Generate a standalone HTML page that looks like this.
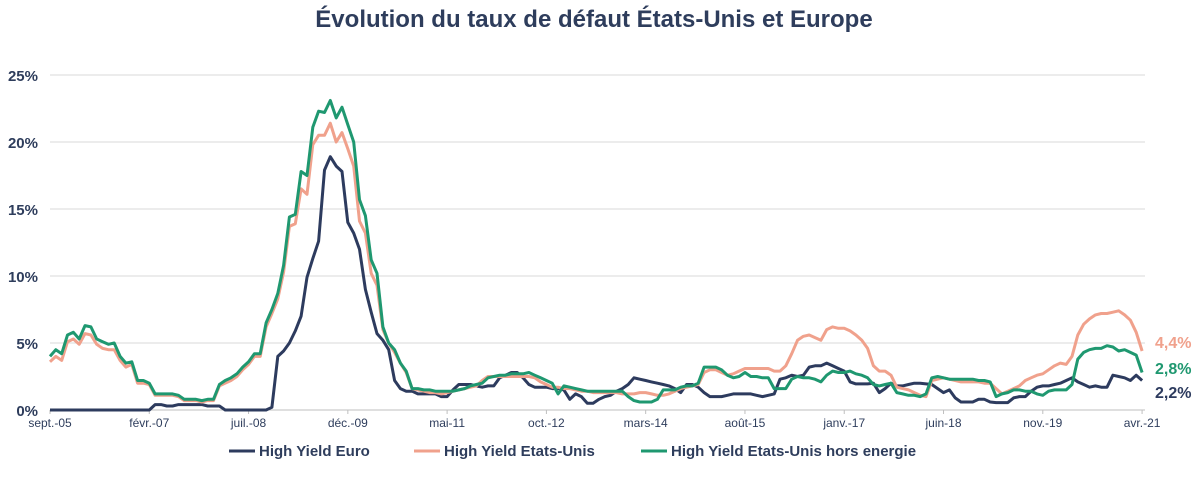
<!DOCTYPE html>
<html><head><meta charset="utf-8"><style>
body{margin:0;background:#fff;font-family:"Liberation Sans",Arial,sans-serif}
svg{display:block}
</style></head><body>
<svg id="chart" width="1200" height="489" viewBox="0 0 1200 489" xmlns="http://www.w3.org/2000/svg">
<text x="594" y="27" text-anchor="middle" font-size="24" font-weight="bold" fill="#2e3d5c">Évolution du taux de défaut États-Unis et Europe</text>
<g id="grid"></g>
<g id="yaxis"></g>
<g id="xaxis"></g>
<g id="series"></g>
<g id="endlabels"></g>
<g font-size="15" font-weight="bold" fill="#2e3d5c">
 <g><line x1="229" y1="451" x2="255" y2="451" stroke="#2d3b5e" stroke-width="3"/><text x="259" y="456">High Yield Euro</text></g>
 <g><line x1="414" y1="451" x2="440" y2="451" stroke="#f0a18c" stroke-width="3"/><text x="444" y="456">High Yield Etats-Unis</text></g>
 <g><line x1="641" y1="451" x2="667" y2="451" stroke="#1f9870" stroke-width="3"/><text x="671" y="456">High Yield Etats-Unis hors energie</text></g>
</g>
</svg>
<script>
const yTicks=[0,5,10,15,20,25];
const xTickLabels=["sept.-05","févr.-07","juil.-08","déc.-09","mai-11","oct.-12","mars-14","août-15","janv.-17","juin-18","nov.-19","avr.-21"];
const euro=[0,0,0,0,0,0,0,0,0,0,0,0,0,0,0,0,0,0,0.4,0.4,0.3,0.3,0.4,0.4,0.4,0.4,0.4,0.3,0.3,0.3,0,0,0,0,0,0,0,0,0.2,4.0,4.4,5.0,5.9,7.0,9.9,11.3,12.6,17.9,18.9,18.2,17.8,14.0,13.2,12.0,9.0,7.3,5.7,5.2,4.5,2.2,1.6,1.4,1.4,
1.2,1.2,1.2,1.2,1.0,1.0,1.5,1.9,1.9,1.9,1.8,1.7,1.8,1.8,2.4,2.6,2.8,2.8,2.4,1.9,1.7,1.7,1.7,1.6,1.6,1.5,0.8,1.2,1.0,0.5,0.5,0.8,1.0,1.1,1.4,1.6,1.9,2.4,2.3,2.2,2.1,2.0,1.9,1.8,1.6,1.3,1.9,1.9,1.7,1.3,1.0,1.0,1.0,1.1,1.2,1.2,1.2,1.2,1.1,1.0,1.1,1.2,2.3,2.4,2.6,2.5,
2.6,3.2,3.3,3.3,3.5,3.3,3.1,2.9,2.1,1.95,1.95,1.95,2.0,1.3,1.6,2.0,1.8,1.8,1.9,2.0,2.0,1.95,1.9,1.6,1.3,1.5,0.9,0.6,0.6,0.6,0.8,0.8,0.6,0.55,0.55,0.55,0.9,1.0,1.0,1.4,1.7,1.8,1.8,1.9,2.0,2.2,2.4,2.1,1.9,1.7,1.8,1.7,1.7,2.6,2.5,2.4,2.2,2.6,2.2];
const us=[3.6,4.0,3.7,5.1,5.3,4.9,5.7,5.6,4.9,4.6,4.5,4.5,3.7,3.2,3.4,2.0,2.0,1.9,1.1,1.1,1.1,1.1,1.0,0.7,0.7,0.7,0.6,0.7,0.7,1.8,2.0,2.2,2.5,3.0,3.4,4.0,4.0,6.2,7.2,8.3,10.3,13.7,13.9,16.5,16.1,19.8,20.5,20.5,21.4,20.0,20.7,19.5,18.2,14.1,13.2,10.2,9.3,6.0,5.0,4.3,3.5,2.8,1.6,
1.5,1.4,1.3,1.3,1.2,1.3,1.4,1.5,1.6,1.7,1.8,2.2,2.5,2.5,2.5,2.5,2.5,2.5,2.5,2.5,2.4,2.1,1.9,1.7,1.7,1.6,1.6,1.5,1.4,1.4,1.3,1.3,1.3,1.3,1.3,1.2,1.2,1.2,1.3,1.3,1.2,1.1,1.1,1.2,1.4,1.6,1.7,1.8,1.9,2.8,3.0,3.0,2.8,2.6,2.7,2.9,3.1,3.1,3.1,3.1,3.1,2.9,2.9,3.3,4.2,5.2,
5.5,5.6,5.4,5.2,6.0,6.2,6.1,6.1,5.9,5.6,5.2,4.6,3.3,2.9,2.9,2.6,1.7,1.6,1.5,1.3,1.1,1.0,2.2,2.3,2.4,2.3,2.2,2.1,2.1,2.1,2.1,2.0,2.0,1.6,1.2,1.4,1.6,1.8,2.2,2.4,2.6,2.7,3.0,3.3,3.5,3.4,4.0,5.6,6.4,6.8,7.1,7.2,7.2,7.3,7.4,7.1,6.7,5.8,4.4];
const usExEnergy=[4.0,4.5,4.2,5.6,5.8,5.3,6.3,6.2,5.3,5.1,4.9,5.0,4.0,3.5,3.6,2.2,2.2,2.0,1.2,1.2,1.2,1.2,1.1,0.8,0.8,0.8,0.7,0.8,0.8,1.9,2.2,2.4,2.7,3.2,3.6,4.2,4.2,6.5,7.5,8.7,10.8,14.4,14.6,17.8,17.5,21.1,22.3,22.2,23.1,21.8,22.6,21.3,20.0,15.7,14.5,11.2,10.2,6.2,5.0,4.5,3.5,2.9,1.6,
1.6,1.5,1.5,1.4,1.4,1.4,1.4,1.5,1.6,1.8,1.9,2.0,2.4,2.5,2.6,2.6,2.7,2.7,2.7,2.8,2.6,2.4,2.2,2.0,1.2,1.8,1.7,1.6,1.5,1.4,1.4,1.4,1.4,1.4,1.4,1.4,1.0,0.7,0.6,0.6,0.6,0.8,1.5,1.5,1.5,1.7,1.8,1.8,2.0,3.2,3.2,3.2,3.0,2.6,2.4,2.5,2.8,2.5,2.5,2.4,2.4,1.6,1.6,1.6,2.3,2.5,
2.4,2.4,2.3,2.1,2.6,2.9,2.8,2.8,2.9,2.7,2.6,2.4,1.9,1.8,1.9,2.0,1.3,1.2,1.1,1.1,1.0,1.2,2.4,2.5,2.4,2.3,2.3,2.3,2.3,2.3,2.2,2.2,2.1,1.0,1.2,1.3,1.5,1.5,1.4,1.4,1.2,1.1,1.4,1.5,1.5,1.5,1.9,3.8,4.3,4.5,4.6,4.6,4.8,4.7,4.4,4.5,4.3,4.1,2.8];
const seriesNames=["euro","us","us-ex-energy"];
const NS="http://www.w3.org/2000/svg";
const X0=50,DX=5.84,Y0=410,YS=13.4,XR=1145;
const x=i=>X0+i*DX, y=v=>Y0-v*YS;
function mk(tag,attrs,parent){const e=document.createElementNS(NS,tag);for(const k in attrs)e.setAttribute(k,attrs[k]);parent.appendChild(e);return e;}
const grid=document.getElementById('grid'),ya=document.getElementById('yaxis'),xa=document.getElementById('xaxis'),sg=document.getElementById('series'),el=document.getElementById('endlabels');
yTicks.forEach(t=>{
 const l=mk('line',{x1:X0,x2:XR,y1:y(t),y2:y(t),stroke:t===0?'#bfbfbf':'#d9d9d9','stroke-width':1},grid);
 
 
 const tx=mk('text',{x:38,y:y(t)+6,'text-anchor':'end','font-size':15,'font-weight':'bold',fill:'#2e3d5c'},ya);
 tx.textContent=t+'%';
 
 
});
xTickLabels.forEach((lab,k)=>{
 const xx=x(k*17);
 const tk=mk('line',{x1:xx,x2:xx,y1:Y0,y2:Y0+4,stroke:'#bfbfbf'},xa);
 
 
 const tx=mk('text',{x:xx,y:427,'text-anchor':'middle','font-size':12,fill:'#2e3d5c'},xa);
 tx.textContent=lab;
 
 
});
const all=[euro,us,usExEnergy],cols=['#2d3b5e','#f0a18c','#1f9870'];
all.forEach((d,s)=>{
 const p=mk('polyline',{points:d.map((v,i)=>x(i).toFixed(1)+','+y(v).toFixed(1)).join(' '),fill:'none',stroke:cols[s],'stroke-width':3,'stroke-linejoin':'round'},sg);
 
 
});
const labY=[392,342,368];
all.forEach((d,s)=>{
 const v=d[d.length-1];
 const t=mk('text',{x:1155,y:labY[s]+6,'font-size':16,'font-weight':'bold',fill:cols[s]},el);
 t.textContent=v.toFixed(1).replace('.',',')+'%';
 
 
});
</script>
</body></html>
